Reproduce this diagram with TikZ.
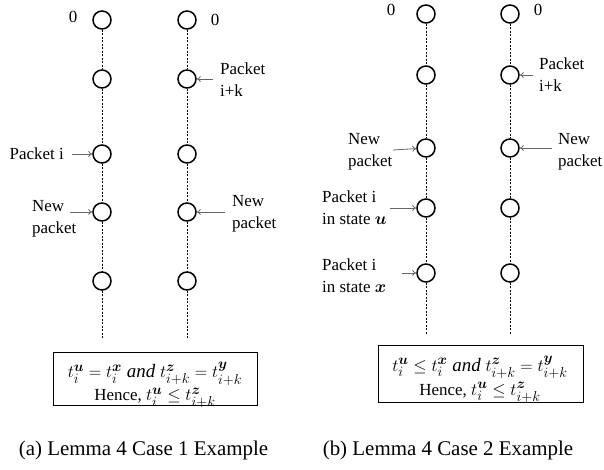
\documentclass[tikz,border=0pt]{standalone}
\usepackage{amsmath,bm}
\usepackage{fontspec}
\setmainfont{Liberation Serif}
\usetikzlibrary{arrows.meta}
\begin{document}
\begin{tikzpicture}[x=1bp,y=-1bp,
  pt/.style={circle,draw=black,line width=1.5bp,minimum size=18bp,inner sep=0pt},
  vline/.style={black,line width=0.6bp,dash pattern=on 2bp off 1.5bp},
  lbl/.style={font=\fontsize{17}{22}\selectfont,inner sep=0pt,align=left},
  ptr/.style={-{To[length=4bp,width=6bp]},draw=black!60,line width=0.8bp},
  eqbox/.style={draw=black,line width=0.8bp,inner sep=0pt},
  eqtxt/.style={font=\fontsize{17}{22}\selectfont,inner sep=0pt,anchor=base},
  capt/.style={font=\fontsize{21}{25}\selectfont,inner sep=0pt}]
\newcommand{\mbig}[1]{{\fontsize{19}{22}\selectfont$#1$}}
\useasboundingbox (0,0) rectangle (604,470);
% ---------- panel (a)
\foreach \r/\y in {1/20,2/79,3/154,4/212,5/281}{
  \node[pt] (a1\r) at (102,\y) {};
  \node[pt] (a2\r) at (187,\y) {};
}
\coordinate (a1e) at (102,338);
\coordinate (a2e) at (187,338);
\foreach \c in {1,2}{
  \draw[vline] (a\c1) -- (a\c2);
  \draw[vline] (a\c2) -- (a\c3);
  \draw[vline] (a\c3) -- (a\c4);
  \draw[vline] (a\c4) -- (a\c5);
  \draw[vline] (a\c5) -- (a\c e);
}
\node[lbl] (az1) at (73,17) {0};
\node[lbl] (az2) at (215,20) {0};
\node[lbl,anchor=west] (apk) at (220,80) {Packet\\i+k};
\coordinate (apks) at (213,79);
\draw[ptr] (apks) -- (a22);
\node[lbl,anchor=east] (api) at (64,154) {Packet i};
\coordinate (apis) at (72,154);
\draw[ptr] (apis) -- (a13);
\node[lbl,anchor=west] (anl) at (32,219) {New\\packet};
\coordinate (anls) at (70,212);
\draw[ptr] (anls) -- (a14);
\node[lbl,anchor=west] (anr) at (232,214) {New\\packet};
\coordinate (anrs) at (225,212);
\draw[ptr] (anrs) -- (a24);
\node[eqbox,minimum width=204bp,minimum height=53bp] (abox) at (155,378.5) {};
\node[eqtxt] (aeq1) at (155,377.5)
  {\mbig{t_i^{\bm u} = t_i^{\bm x}\ \mathit{and}\ t_{i+k}^{\bm z} = t_{i+k}^{\bm y}}};
\node[eqtxt] (aeq2) at (155,400.5)
  {Hence, \mbig{t_i^{\bm u} \le t_{i+k}^{\bm z}}};
\node[capt] (acap) at (143.5,450) {(a) Lemma 4 Case 1 Example};
% ---------- panel (b)
\foreach \r/\y in {1/14,2/75,3/148,4/208,5/273}{
  \node[pt] (b1\r) at (426,\y) {};
  \node[pt] (b2\r) at (510,\y) {};
}
\coordinate (b1e) at (426,335);
\coordinate (b2e) at (510,335);
\foreach \c in {1,2}{
  \draw[vline] (b\c1) -- (b\c2);
  \draw[vline] (b\c2) -- (b\c3);
  \draw[vline] (b\c3) -- (b\c4);
  \draw[vline] (b\c4) -- (b\c5);
  \draw[vline] (b\c5) -- (b\c e);
}
\node[lbl] (bz1) at (391,10) {0};
\node[lbl] (bz2) at (538,10) {0};
\node[lbl,anchor=west] (bpk) at (539,75) {Packet\\i+k};
\coordinate (bpks) at (533,75);
\draw[ptr] (bpks) -- (b22);
\node[lbl,anchor=west] (bnl) at (348,152) {New\\packet};
\coordinate (bnls) at (393,150);
\draw[ptr] (bnls) -- (b13);
\node[lbl,anchor=west] (bnr) at (558,152) {New\\packet};
\coordinate (bnrs) at (552,148);
\draw[ptr] (bnrs) -- (b23);
\node[lbl,anchor=west] (bpu) at (322,208) {Packet i\\in state $\bm{u}$};
\coordinate (bpus) at (390,208);
\draw[ptr] (bpus) -- (b14);
\node[lbl,anchor=west] (bpx) at (322,276) {Packet i\\in state $\bm{x}$};
\coordinate (bpxs) at (402,273);
\draw[ptr] (bpxs) -- (b15);
\node[eqbox,minimum width=205bp,minimum height=57bp] (bbox) at (480.5,373.5) {};
\node[eqtxt] (beq1) at (480,371)
  {\mbig{t_i^{\bm u} \le t_i^{\bm x}\ \mathit{and}\ t_{i+k}^{\bm z} = t_{i+k}^{\bm y}}};
\node[eqtxt] (beq2) at (480,395)
  {Hence, \mbig{t_i^{\bm u} \le t_{i+k}^{\bm z}}};
\node[capt] (bcap) at (448,450) {(b) Lemma 4 Case 2 Example};
\end{tikzpicture}
\end{document}
